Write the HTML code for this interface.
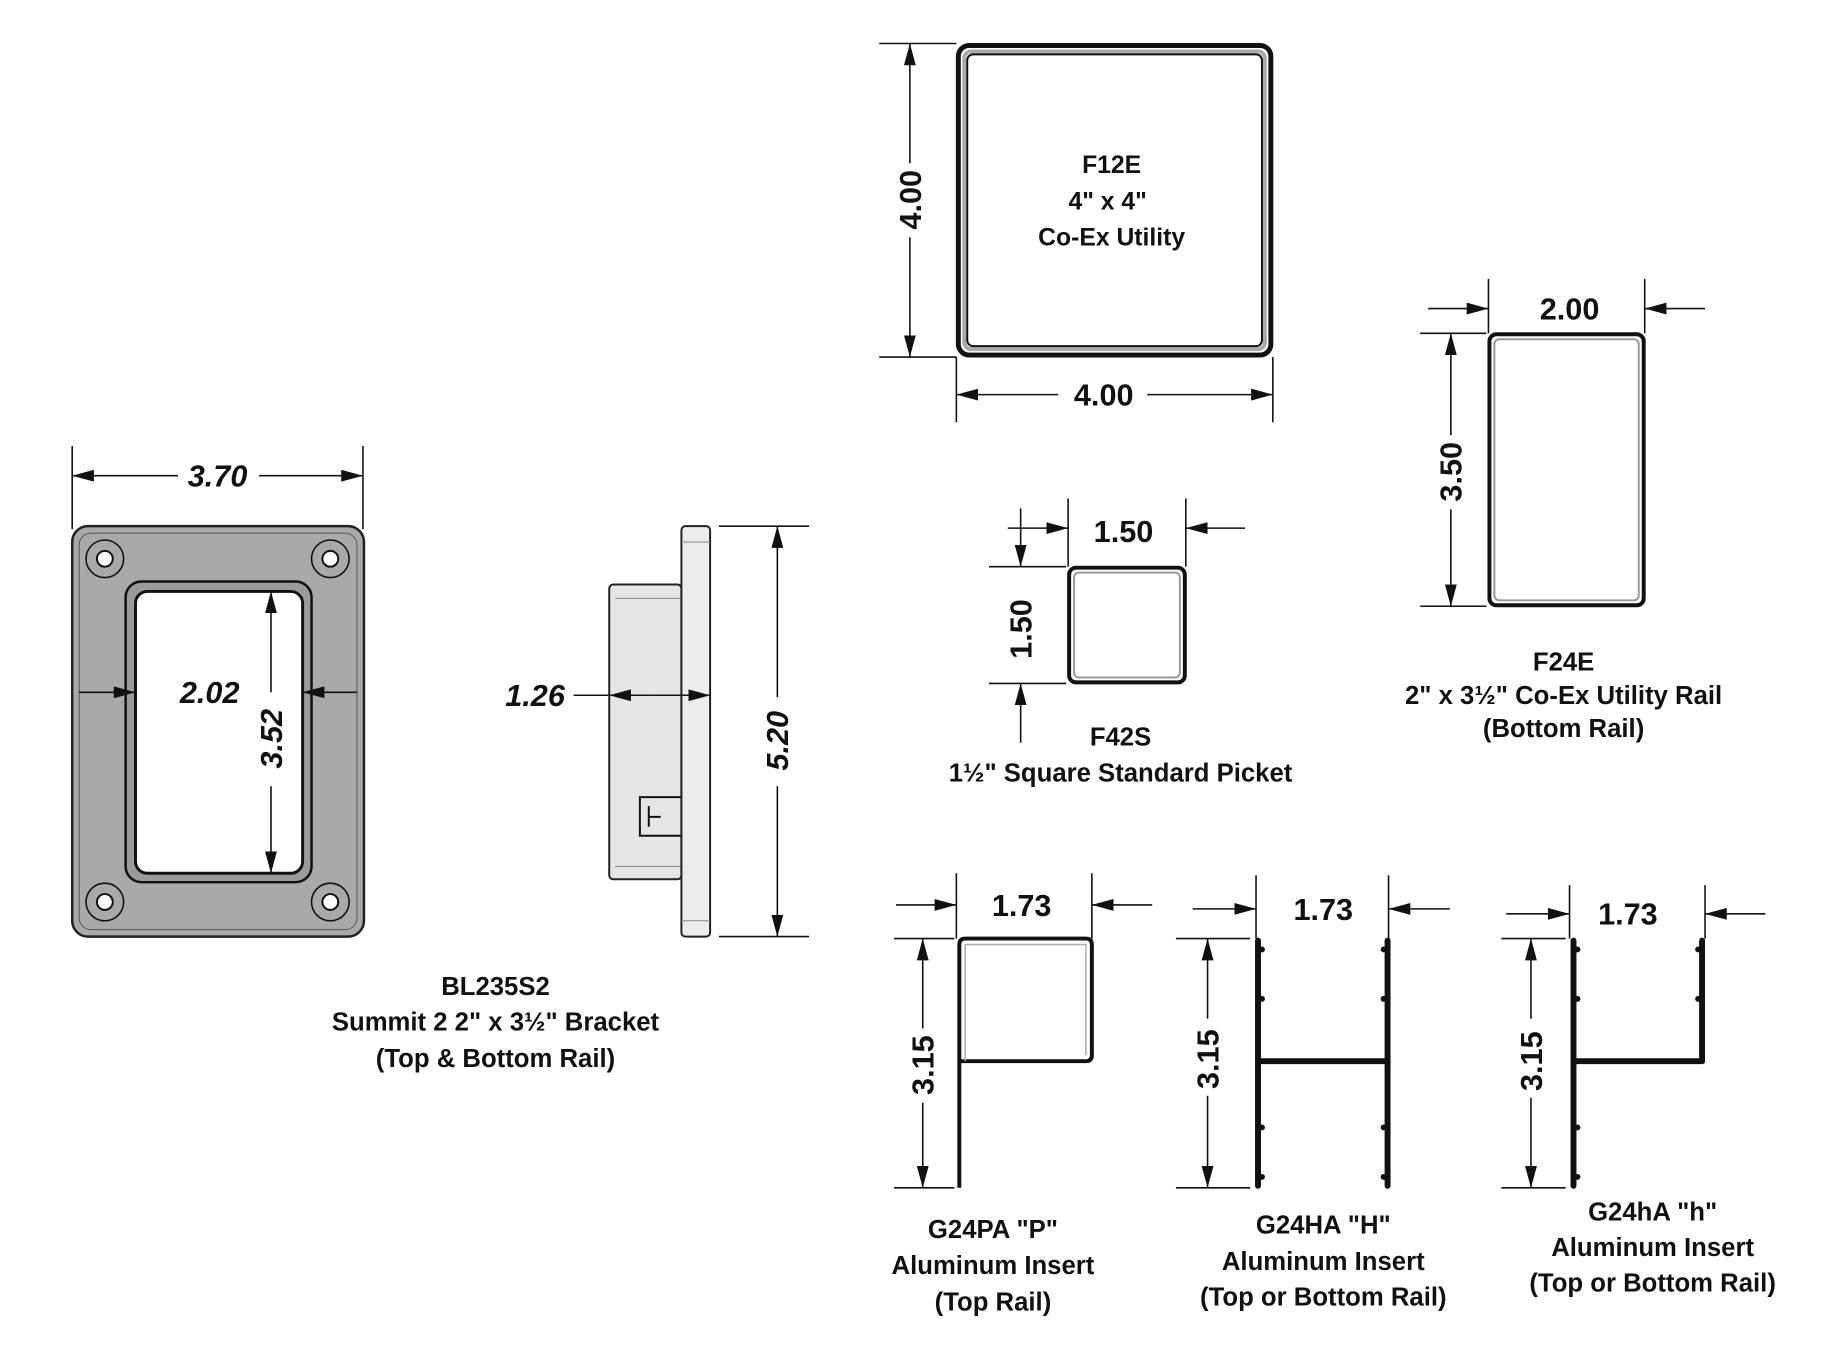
<!DOCTYPE html>
<html><head><meta charset="utf-8"><style>
html,body{margin:0;padding:0;background:#fff;}
svg{display:block;}
text{font-family:"Liberation Sans",sans-serif;fill:#111;}
.d{font-size:31px;font-weight:bold;}
.di{font-size:31px;font-weight:bold;font-style:italic;}
.l{font-size:26px;font-weight:bold;}
.lb{font-size:25px;font-weight:bold;}
</style></head><body>
<svg width="1824" height="1361" viewBox="0 0 1824 1361" xmlns="http://www.w3.org/2000/svg">
<defs>
<marker id="a" markerUnits="userSpaceOnUse" markerWidth="24" markerHeight="12" refX="22" refY="6" orient="auto">
<path d="M0,0 L22,6 L0,12 Z" fill="#111"/></marker>
</defs>
<g transform="scale(0.989)">
<g stroke="#111" stroke-width="1.6" fill="none">
<rect x="73" y="532" width="295" height="415" rx="16" fill="#a9a9a9" stroke="#222" stroke-width="2.5"/>
<rect x="80" y="539" width="281" height="401" rx="12" stroke="#555" stroke-width="1"/>
<rect x="127" y="588" width="188" height="304" rx="16" fill="#9a9a9a" stroke="#111" stroke-width="2.5"/>
<rect x="137" y="598" width="169" height="285" rx="12" fill="#fff" stroke="#111" stroke-width="3"/>
<g fill="#a9a9a9" stroke="#111" stroke-width="1.6">
<circle cx="106" cy="565" r="19"/><circle cx="334" cy="565" r="19"/>
<circle cx="106" cy="912" r="19"/><circle cx="334" cy="912" r="19"/></g>
<g fill="#fff" stroke="#111" stroke-width="2">
<circle cx="106" cy="565" r="8"/><circle cx="334" cy="565" r="8"/>
<circle cx="106" cy="912" r="8"/><circle cx="334" cy="912" r="8"/></g>
<line x1="73" y1="451" x2="73" y2="535"/><line x1="367" y1="451" x2="367" y2="535"/>
<line x1="180" y1="481" x2="73" y2="481" marker-end="url(#a)"/>
<line x1="262" y1="481" x2="367" y2="481" marker-end="url(#a)"/>
<line x1="80" y1="700" x2="137" y2="700" marker-end="url(#a)"/>
<line x1="361" y1="700" x2="306" y2="700" marker-end="url(#a)"/>
<line x1="274" y1="700" x2="274" y2="598" marker-end="url(#a)"/>
<line x1="274" y1="795" x2="274" y2="883" marker-end="url(#a)"/>
<rect x="616" y="591" width="73" height="298" rx="4" fill="#e6e6e6" stroke="#222" stroke-width="2"/>
<line x1="622" y1="605" x2="689" y2="605" stroke="#888" stroke-width="1"/>
<line x1="622" y1="876" x2="689" y2="876" stroke="#888" stroke-width="1"/>
<rect x="689" y="532" width="29" height="415" rx="4" fill="#ededed" stroke="#222" stroke-width="2"/>
<line x1="689" y1="548" x2="718" y2="548" stroke="#888" stroke-width="1"/>
<line x1="689" y1="931" x2="718" y2="931" stroke="#888" stroke-width="1"/>
<path d="M689,806 H647 V845 H689" stroke="#111" stroke-width="2"/>
<path d="M656,815 V836 M656,826 H668" stroke="#111" stroke-width="2"/>
<line x1="580" y1="703" x2="616" y2="703"/>
<line x1="660" y1="703" x2="616" y2="703" marker-end="url(#a)"/>
<line x1="660" y1="703" x2="718" y2="703" marker-end="url(#a)"/>
<line x1="727" y1="532" x2="818" y2="532"/><line x1="727" y1="947" x2="818" y2="947"/>
<line x1="786" y1="705" x2="786" y2="532" marker-end="url(#a)"/>
<line x1="786" y1="795" x2="786" y2="947" marker-end="url(#a)"/>
<rect x="969" y="46" width="316" height="313" rx="11" stroke="#111" stroke-width="5"/>
<rect x="975" y="52" width="304" height="301" rx="7" stroke="#aaa" stroke-width="4"/>
<rect x="978" y="55" width="298" height="295" rx="6" stroke="#111" stroke-width="2"/>
<line x1="889" y1="44" x2="967" y2="44"/><line x1="889" y1="361" x2="967" y2="361"/>
<line x1="920" y1="165" x2="920" y2="44" marker-end="url(#a)"/>
<line x1="920" y1="240" x2="920" y2="361" marker-end="url(#a)"/>
<line x1="967" y1="361" x2="967" y2="427"/><line x1="1287" y1="361" x2="1287" y2="427"/>
<line x1="1070" y1="399" x2="967" y2="399" marker-end="url(#a)"/>
<line x1="1160" y1="399" x2="1287" y2="399" marker-end="url(#a)"/>
<rect x="1081" y="574" width="117" height="116" rx="7" stroke="#111" stroke-width="4"/>
<rect x="1086" y="579" width="107" height="106" rx="5" stroke="#999" stroke-width="2"/>
<line x1="1080" y1="504" x2="1080" y2="573"/><line x1="1199" y1="504" x2="1199" y2="573"/>
<line x1="1019" y1="534" x2="1080" y2="534" marker-end="url(#a)"/>
<line x1="1259" y1="534" x2="1199" y2="534" marker-end="url(#a)"/>
<line x1="1000" y1="573" x2="1078" y2="573"/><line x1="1000" y1="691" x2="1078" y2="691"/>
<line x1="1032" y1="514" x2="1032" y2="573" marker-end="url(#a)"/>
<line x1="1032" y1="751" x2="1032" y2="691" marker-end="url(#a)"/>
<rect x="1506" y="338" width="156" height="274" rx="7" stroke="#111" stroke-width="4"/>
<rect x="1511" y="343" width="146" height="264" rx="5" stroke="#999" stroke-width="2"/>
<line x1="1505" y1="282" x2="1505" y2="337"/><line x1="1663" y1="282" x2="1663" y2="337"/>
<line x1="1444" y1="312" x2="1505" y2="312" marker-end="url(#a)"/>
<line x1="1724" y1="312" x2="1663" y2="312" marker-end="url(#a)"/>
<line x1="1436" y1="337" x2="1503" y2="337"/><line x1="1436" y1="613" x2="1503" y2="613"/>
<line x1="1467" y1="440" x2="1467" y2="337" marker-end="url(#a)"/>
<line x1="1467" y1="515" x2="1467" y2="613" marker-end="url(#a)"/>
<path d="M970,1201 V955 Q970,949 976,949 H1098 Q1104,949 1104,955 V1067 Q1104,1073 1098,1073 H972" stroke="#111" stroke-width="4"/>
<path d="M976,1073 V955 H1098 V1067" stroke="#aaa" stroke-width="1.5"/>
<line x1="967" y1="883" x2="967" y2="949"/><line x1="1104" y1="883" x2="1104" y2="949"/>
<line x1="906" y1="915" x2="967" y2="915" marker-end="url(#a)"/>
<line x1="1165" y1="915" x2="1104" y2="915" marker-end="url(#a)"/>
<line x1="904" y1="949" x2="965" y2="949"/><line x1="904" y1="1201" x2="965" y2="1201"/>
<line x1="933" y1="1040" x2="933" y2="949" marker-end="url(#a)"/>
<line x1="933" y1="1115" x2="933" y2="1201" marker-end="url(#a)"/>
<g stroke="#111" stroke-width="6" stroke-linecap="round">
<line x1="1272" y1="951" x2="1272" y2="1199"/><line x1="1403" y1="951" x2="1403" y2="1199"/>
<line x1="1272" y1="1073" x2="1403" y2="1073"/>
<line x1="1591" y1="951" x2="1591" y2="1199"/><line x1="1721" y1="951" x2="1721" y2="1073"/>
<line x1="1591" y1="1073" x2="1721" y2="1073"/>
</g>
<g fill="#111" stroke="none">
<circle cx="1276" cy="1010" r="3"/><circle cx="1276" cy="1140" r="3"/><circle cx="1399" cy="1010" r="3"/><circle cx="1399" cy="1140" r="3"/>
<circle cx="1276" cy="960" r="3"/><circle cx="1276" cy="1190" r="3"/><circle cx="1399" cy="960" r="3"/><circle cx="1399" cy="1190" r="3"/>
<circle cx="1595" cy="1010" r="3"/><circle cx="1595" cy="1140" r="3"/><circle cx="1717" cy="1010" r="3"/>
<circle cx="1595" cy="960" r="3"/><circle cx="1595" cy="1190" r="3"/><circle cx="1717" cy="960" r="3"/>
</g>
<line x1="1270" y1="885" x2="1270" y2="949"/><line x1="1404" y1="885" x2="1404" y2="949"/>
<line x1="1206" y1="919" x2="1270" y2="919" marker-end="url(#a)"/>
<line x1="1466" y1="919" x2="1404" y2="919" marker-end="url(#a)"/>
<line x1="1189" y1="949" x2="1264" y2="949"/><line x1="1189" y1="1201" x2="1264" y2="1201"/>
<line x1="1221" y1="1030" x2="1221" y2="949" marker-end="url(#a)"/>
<line x1="1221" y1="1108" x2="1221" y2="1201" marker-end="url(#a)"/>
<line x1="1587" y1="895" x2="1587" y2="949"/><line x1="1724" y1="895" x2="1724" y2="949"/>
<line x1="1523" y1="924" x2="1587" y2="924" marker-end="url(#a)"/>
<line x1="1785" y1="924" x2="1724" y2="924" marker-end="url(#a)"/>
<line x1="1518" y1="949" x2="1583" y2="949"/><line x1="1518" y1="1201" x2="1583" y2="1201"/>
<line x1="1548" y1="1030" x2="1548" y2="949" marker-end="url(#a)"/>
<line x1="1548" y1="1110" x2="1548" y2="1201" marker-end="url(#a)"/>
</g>
<text class="di" x="220" y="492" text-anchor="middle">3.70</text>
<text class="di" x="212" y="711" text-anchor="middle">2.02</text>
<text class="di" transform="translate(285,747) rotate(-90)" text-anchor="middle">3.52</text>
<text class="di" x="541" y="714" text-anchor="middle">1.26</text>
<text class="di" transform="translate(797,749) rotate(-90)" text-anchor="middle">5.20</text>
<text class="l" x="501" y="1006" text-anchor="middle">BL235S2</text>
<text class="l" x="501" y="1042" text-anchor="middle">Summit 2 2" x 3½"  Bracket</text>
<text class="l" x="501" y="1079" text-anchor="middle">(Top &amp; Bottom Rail)</text>
<text class="d" transform="translate(931,202) rotate(-90)" text-anchor="middle">4.00</text>
<text class="d" x="1116" y="410" text-anchor="middle">4.00</text>
<text class="lb" x="1124" y="175" text-anchor="middle">F12E</text>
<text class="lb" x="1120" y="212" text-anchor="middle">4" x 4"</text>
<text class="lb" x="1124" y="248" text-anchor="middle">Co-Ex Utility</text>
<text class="d" x="1136" y="548" text-anchor="middle">1.50</text>
<text class="d" transform="translate(1043,636) rotate(-90)" text-anchor="middle">1.50</text>
<text class="l" x="1133" y="754" text-anchor="middle">F42S</text>
<text class="l" x="1133" y="790" text-anchor="middle">1½" Square Standard Picket</text>
<text class="d" x="1587" y="323" text-anchor="middle">2.00</text>
<text class="d" transform="translate(1478,477) rotate(-90)" text-anchor="middle">3.50</text>
<text class="l" x="1581" y="678" text-anchor="middle">F24E</text>
<text class="l" x="1581" y="712" text-anchor="middle">2" x 3½" Co-Ex Utility Rail</text>
<text class="l" x="1581" y="745" text-anchor="middle">(Bottom Rail)</text>
<text class="d" x="1033" y="926" text-anchor="middle">1.73</text>
<text class="d" transform="translate(944,1077) rotate(-90)" text-anchor="middle">3.15</text>
<text class="l" x="1004" y="1252" text-anchor="middle">G24PA "P"</text>
<text class="l" x="1004" y="1288" text-anchor="middle">Aluminum Insert</text>
<text class="l" x="1004" y="1325" text-anchor="middle">(Top Rail)</text>
<text class="d" x="1338" y="930" text-anchor="middle">1.73</text>
<text class="d" transform="translate(1232,1071) rotate(-90)" text-anchor="middle">3.15</text>
<text class="l" x="1338" y="1247" text-anchor="middle">G24HA "H"</text>
<text class="l" x="1338" y="1284" text-anchor="middle">Aluminum Insert</text>
<text class="l" x="1338" y="1320" text-anchor="middle">(Top or Bottom Rail)</text>
<text class="d" x="1646" y="935" text-anchor="middle">1.73</text>
<text class="d" transform="translate(1559,1073) rotate(-90)" text-anchor="middle">3.15</text>
<text class="l" x="1671" y="1234" text-anchor="middle">G24hA "h"</text>
<text class="l" x="1671" y="1270" text-anchor="middle">Aluminum Insert</text>
<text class="l" x="1671" y="1306" text-anchor="middle">(Top or Bottom Rail)</text>
</g>
</svg>
</body></html>
